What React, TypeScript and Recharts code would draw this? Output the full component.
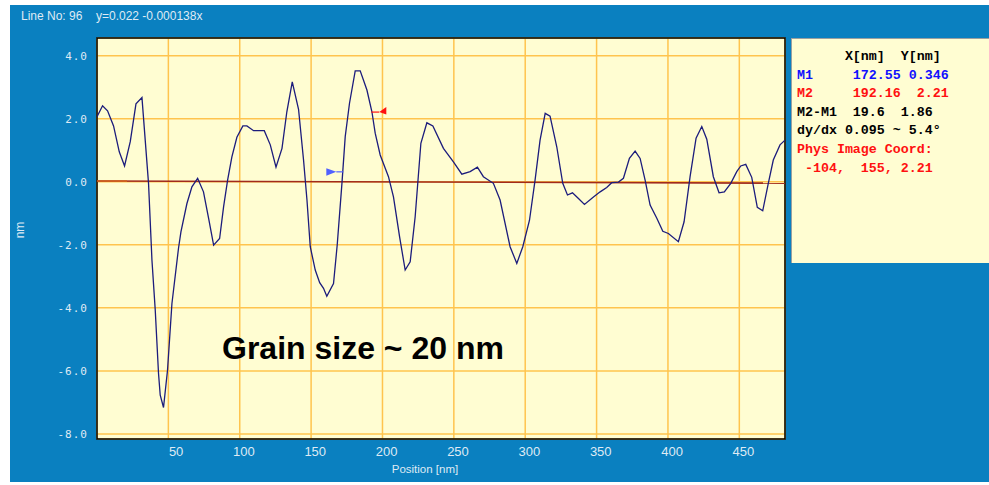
import {
  CartesianGrid,
  Label,
  Line,
  LineChart,
  ReferenceArea,
  ReferenceDot,
  XAxis,
  YAxis,
} from "recharts";

// profile trace, position [nm] vs height [nm]
const positionNm = [
  0, 3.9, 7.4, 11.6, 15.6, 19.3, 23.3, 27.3, 31.5, 36.1, 38.5, 40.8, 43.1,
  44.3, 46.6, 49.4, 52.5, 57.1, 58.8, 63.0, 66.5, 70.5, 74.6, 78.2, 81.7,
  85.9, 88.7, 91.5, 94.5, 98.0, 102.2, 105.0, 109.7, 117.2, 121.4, 125.4,
  129.6, 133.0, 136.8, 141.2, 144.7, 147.1, 149.4, 152.9, 156.0, 158.7,
  161.0, 165.7, 168.3, 171.6, 173.9, 176.9, 180.9, 184.4, 189.1, 192.6,
  194.9, 198.4, 204.2, 207.7, 212.0, 215.9, 219.4, 222.9, 226.9, 231.1,
  235.3, 242.7, 249.7, 255.6, 261.4, 266.5, 270.7, 277.7, 282.4, 289.4,
  294.1, 298.3, 303.0, 306.9, 310.4, 314.0, 317.4, 322.1, 326.3, 329.6,
  333.1, 337.3, 341.5, 347.8, 352.5, 357.1, 360.6, 365.3, 368.8, 373.0,
  377.0, 380.5, 384.0, 387.5, 392.2, 396.4, 400.3, 407.3, 411.3, 415.5,
  419.7, 423.7, 427.2, 431.8, 435.8, 439.5, 444.0, 448.2, 451.0, 454.5,
  458.7, 462.6, 466.4, 470.3, 473.8, 478.5, 482.0,
];
const heightNm = [
  2.06, 2.41, 2.25, 1.77, 0.95, 0.5, 1.27, 2.47, 2.67, -0.05, -2.49, -4.07,
  -6.08, -6.77, -7.16, -5.98, -3.86, -2.11, -1.59, -0.69, -0.16, 0.11, -0.32,
  -1.16, -2.01, -1.8, -0.79, 0.05, 0.79, 1.41, 1.77, 1.77, 1.62, 1.62, 1.17,
  0.46, 1.06, 2.22, 3.17, 2.3, 0.69, -0.58, -2.06, -2.8, -3.2, -3.38, -3.63,
  -3.23, -2.0, -0.05, 1.43, 2.49, 3.52, 3.52, 2.91, 2.22, 1.54, 0.85, 0.16,
  -0.48, -1.75, -2.8, -2.54, -1.11, 1.22, 1.87, 1.77, 1.06, 0.63, 0.24, 0.32,
  0.46, 0.16, -0.05, -0.58, -2.06, -2.59, -2.06, -1.22, 0.05, 1.32, 2.17,
  2.08, 1.11, -0.05, -0.42, -0.35, -0.53, -0.72, -0.48, -0.32, -0.18, -0.03,
  -0.01, 0.11, 0.74, 0.97, 0.74, 0.05, -0.74, -1.16, -1.57, -1.64, -1.9,
  -1.27, 0.16, 1.38, 1.75, 1.35, 0.16, -0.35, -0.32, -0.05, 0.32, 0.5, 0.55,
  0.14, -0.81, -0.92, -0.05, 0.69, 1.17, 1.32,
];

// fitted line y = 0.022 - 0.000138x, end points
const fitX = [0, 482];
const fitY = [0.022, -0.044];
const fitLeadX = [0, 21];
const fitLeadY = [0.022, 0.019];

// cursors
const m1 = { x: 172.55, y: 0.346 };
const m2 = { x: 192.16, y: 2.21 };

const xTicks = [50, 100, 150, 200, 250, 300, 350, 400, 450];
const yTicks = [4, 2, 0, -2, -4, -6, -8];
const X_DOMAIN = [0, 482];
const Y_DOMAIN = [-8.16, 4.56];

const panelRows = [
  { text: "      X[nm]  Y[nm]", color: "#000000" },
  { text: "M1     172.55 0.346", color: "#1010ff" },
  { text: "M2     192.16  2.21", color: "#ff1010" },
  { text: "M2-M1  19.6  1.86", color: "#000000" },
  { text: "dy/dx 0.095 ~ 5.4\u00b0", color: "#000000" },
  { text: "Phys Image Coord:", color: "#ff1010" },
  { text: " -104,  155, 2.21", color: "#ff1010" },
];

const BLUE = "#0a80c0";
const PAPER = "#fffdd2";
const GRID = "#ffc44e";
const PALE = "#dfeaf4";

const profile = positionNm.map((x, i) => ({ x, y: heightNm[i] }));
const fit = fitX.map((x, i) => ({ x, y: fitY[i] }));
const fitLead = fitLeadX.map((x, i) => ({ x, y: fitLeadY[i] }));

function RedFlag(props: any) {
  const { cx, cy } = props;
  return (
    <g>
      <line x1={cx} y1={cy} x2={cx + 8} y2={cy} stroke="#ff1010" strokeWidth={1.2} />
      <polygon
        points={`${cx + 8},${cy} ${cx + 15},${cy - 5} ${cx + 15},${cy + 2.5}`}
        fill="#ff1010"
      />
    </g>
  );
}

function BlueFlag(props: any) {
  const { cx, cy } = props;
  return (
    <g>
      <line x1={cx - 7} y1={cy + 1} x2={cx} y2={cy + 1} stroke="#5060ff" strokeWidth={1.2} />
      <polygon
        points={`${cx - 17},${cy - 2.5} ${cx - 7},${cy + 1} ${cx - 17},${cy + 5}`}
        fill="#5060ff"
      />
    </g>
  );
}

// x labels sit right-aligned just past their grid line
function XTick(props: any) {
  const { x, y, payload } = props;
  return (
    <text
      x={x + 15}
      y={y}
      dy="0.71em"
      textAnchor="end"
      fill={PALE}
      fontSize={13}
      fontFamily="Liberation Sans, Arial, sans-serif"
    >
      {payload.value}
    </text>
  );
}

function NmLabel(props: any) {
  const { viewBox } = props;
  const x = viewBox.x + 20;
  const y = 230;
  return (
    <text
      x={x}
      y={y}
      transform={`rotate(-90 ${x} ${y})`}
      textAnchor="middle"
      dominantBaseline="central"
      fill={PALE}
      fontSize={12}
      fontFamily="Liberation Sans, Arial, sans-serif"
    >
      nm
    </text>
  );
}

export default function App() {
  return (
    <div
      style={{
        position: "fixed",
        left: 0,
        top: 0,
        width: 989,
        height: 485,
        background: "#ffffff",
        fontFamily: "Liberation Sans, Arial, sans-serif",
      }}
    >
      <div
        style={{
          position: "absolute",
          left: 10,
          top: 5,
          width: 979,
          height: 477,
          background: BLUE,
        }}
      />
      <div
        style={{
          position: "absolute",
          left: 21,
          top: 8,
          fontSize: 12,
          color: PALE,
          whiteSpace: "pre",
          lineHeight: "16px",
        }}
      >
        Line No: 96
      </div>
      <div
        style={{
          position: "absolute",
          left: 96,
          top: 8,
          fontSize: 12,
          color: PALE,
          whiteSpace: "pre",
          lineHeight: "16px",
        }}
      >
        y=0.022 -0.000138x
      </div>

      <div style={{ position: "absolute", left: 0, top: 0 }}>
        <LineChart
          width={989}
          height={485}
          margin={{ top: 38, right: 204, bottom: 16, left: 0 }}
        >
          <CartesianGrid
            fill={PAPER}
            fillOpacity={1}
            stroke={GRID}
            strokeWidth={1.5}
          />
          <XAxis
            type="number"
            dataKey="x"
            domain={X_DOMAIN}
            ticks={xTicks}
            allowDataOverflow
            height={30}
            axisLine={false}
            tickLine={false}
            tickSize={5}
            tickMargin={3}
            tick={<XTick />}
          >
            <Label
              value="Position [nm]"
              position="bottom"
              offset={-4}
              dx={-16}
              fill={PALE}
              fontSize={11.5}
            />
          </XAxis>
          <YAxis
            type="number"
            domain={Y_DOMAIN}
            ticks={yTicks}
            allowDataOverflow
            width={97}
            axisLine={false}
            tickLine={false}
            tickSize={8}
            tickMargin={1}
            tickFormatter={(v: number) => v.toFixed(1)}
            tick={{
              fill: PALE,
              fontSize: 11,
              letterSpacing: 1,
              fontFamily: "DejaVu Sans Mono, monospace",
            }}
          >
            <Label content={<NmLabel />} />
          </YAxis>
          <Line
            data={fit}
            dataKey="y"
            type="linear"
            stroke="#a02a1c"
            strokeWidth={1.6}
            dot={false}
            isAnimationActive={false}
          />
          <Line
            data={fitLead}
            dataKey="y"
            type="linear"
            stroke="#d0621e"
            strokeWidth={1.6}
            dot={false}
            isAnimationActive={false}
          />
          <Line
            data={profile}
            dataKey="y"
            type="linear"
            stroke="#1c1c7c"
            strokeWidth={1.3}
            dot={false}
            isAnimationActive={false}
          />
          <ReferenceDot x={m1.x} y={m1.y} r={0} shape={<BlueFlag />} />
          <ReferenceDot x={m2.x} y={m2.y} r={0} shape={<RedFlag />} />
          <ReferenceArea
            x1={X_DOMAIN[0]}
            x2={X_DOMAIN[1]}
            y1={Y_DOMAIN[0]}
            y2={Y_DOMAIN[1]}
            fill="none"
            stroke="#000000"
            strokeWidth={1.5}
            ifOverflow="visible"
          />
        </LineChart>
      </div>

      <div
        style={{
          position: "absolute",
          left: 222,
          top: 328,
          fontSize: 32,
          fontWeight: "bold",
          color: "#000",
          whiteSpace: "pre",
          lineHeight: "40px",
        }}
      >
        Grain size ~ 20 nm
      </div>

      <div
        style={{
          position: "absolute",
          left: 791,
          top: 38,
          width: 198,
          height: 225,
          background: PAPER,
          boxSizing: "border-box",
          borderLeft: "1px solid #9aa0a0",
          borderTop: "1px solid #9aa0a0",
          paddingLeft: 5,
          paddingTop: 9,
        }}
      >
        {panelRows.map((r, i) => (
          <div
            key={i}
            style={{
              color: r.color,
              fontFamily: "Liberation Mono, monospace",
              fontWeight: "bold",
              fontSize: 13.3,
              lineHeight: "18.6px",
              whiteSpace: "pre",
            }}
          >
            {r.text}
          </div>
        ))}
      </div>
    </div>
  );
}
